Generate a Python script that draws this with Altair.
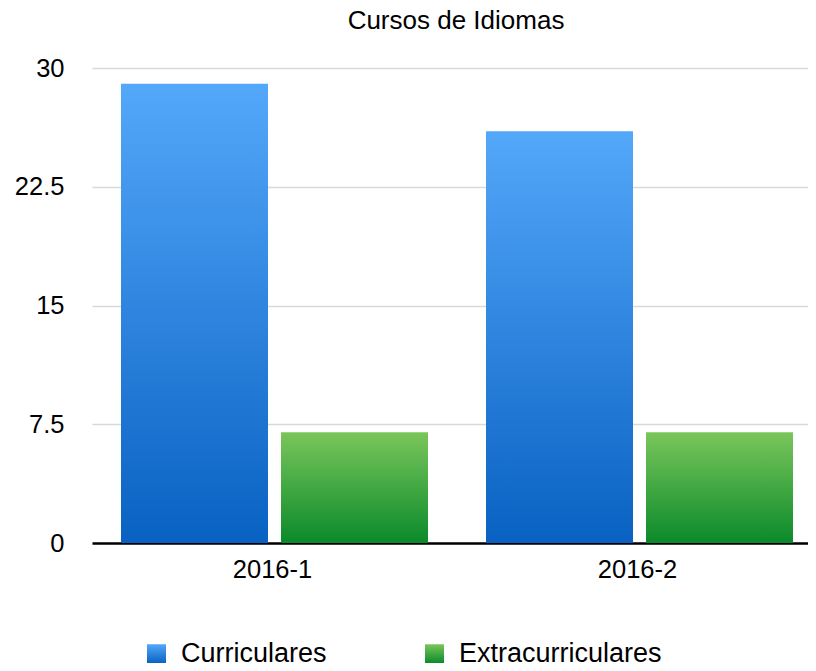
import altair as alt
import pandas as pd

# Data
periods = ["2016-1", "2016-2"]
series = ["Curriculares", "Extracurriculares"]
curriculares = [29, 26]
extracurriculares = [7, 7]
y_ticks = [0, 7.5, 15, 22.5, 30]

rows = []
for i, p in enumerate(periods):
    rows.append({"periodo": p, "serie": series[0], "valor": curriculares[i]})
    rows.append({"periodo": p, "serie": series[1], "valor": extracurriculares[i]})
df = pd.DataFrame(rows)

FONT = "Liberation Sans"
W = 716
STEP = 365


def grad(top, bottom):
    return alt.ExprRef(
        "{gradient: 'linear', x1: 0, y1: 0, x2: 0, y2: 1, "
        f"stops: [{{offset: 0, color: '{top}'}}, {{offset: 1, color: '{bottom}'}}]}}"
    )


blue = grad("#54a8fa", "#0961c2")
green = grad("#7ac65a", "#0a8a2b")

inner = 2 - W / STEP

chart = (
    alt.Chart(df)
    .mark_bar()
    .encode(
        x=alt.X(
            "periodo:N",
            sort=periods,
            scale=alt.Scale(paddingInner=round(inner, 6), paddingOuter=0, align=0),
            axis=alt.Axis(
                title=None,
                labelAngle=0,
                labelFontSize=25.5,
                labelColor="black",
                labelPadding=14,
                labelOffset=5,
                ticks=False,
                domainColor="black",
                domainWidth=2.5,
                grid=False,
            ),
        ),
        xOffset=alt.XOffset(
            "serie:N",
            sort=series,
            scale=alt.Scale(
                range=[0, STEP], paddingInner=13 / 160, paddingOuter=0.18125
            ),
        ),
        y=alt.Y(
            "valor:Q",
            scale=alt.Scale(domain=[0, 30]),
            axis=alt.Axis(
                title=None,
                values=y_ticks,
                format=".1~f",
                labelFontSize=25.5,
                labelColor="black",
                labelPadding=28,
                ticks=False,
                domain=False,
                grid=True,
                gridColor="#d9d9d9",
                gridWidth=1.5,
            ),
        ),
        color=alt.Color(
            "serie:N",
            sort=series,
            scale=alt.Scale(domain=series, range=[blue, green]),
            legend=alt.Legend(
                title=None,
                orient="none",
                legendX=51,
                legendY=572,
                direction="horizontal",
                symbolType="square",
                symbolSize=361,
                symbolStrokeWidth=0,
                labelFontSize=27,
                labelColor="black",
                labelOffset=11,
                labelLimit=400,
                columnPadding=94,
                padding=0,
            ),
        ),
    )
    .properties(
        width=W,
        height=475,
        title=alt.TitleParams(
            "Cursos de Idiomas",
            fontSize=26,
            fontWeight="normal",
            color="black",
            anchor="middle",
            offset=22,
            dx=6,
        ),
        autosize=alt.AutoSizeParams(type="none"),
        padding={"left": 84, "top": 60, "right": 0, "bottom": 120},
    )
    .configure(font=FONT)
    .configure_axis(labelFont=FONT)
    .configure_legend(labelFont=FONT)
    .configure_title(font=FONT)
    .configure_view(stroke=None)
)

chart.save("out.html", embed_options={"renderer": "svg", "actions": False})
